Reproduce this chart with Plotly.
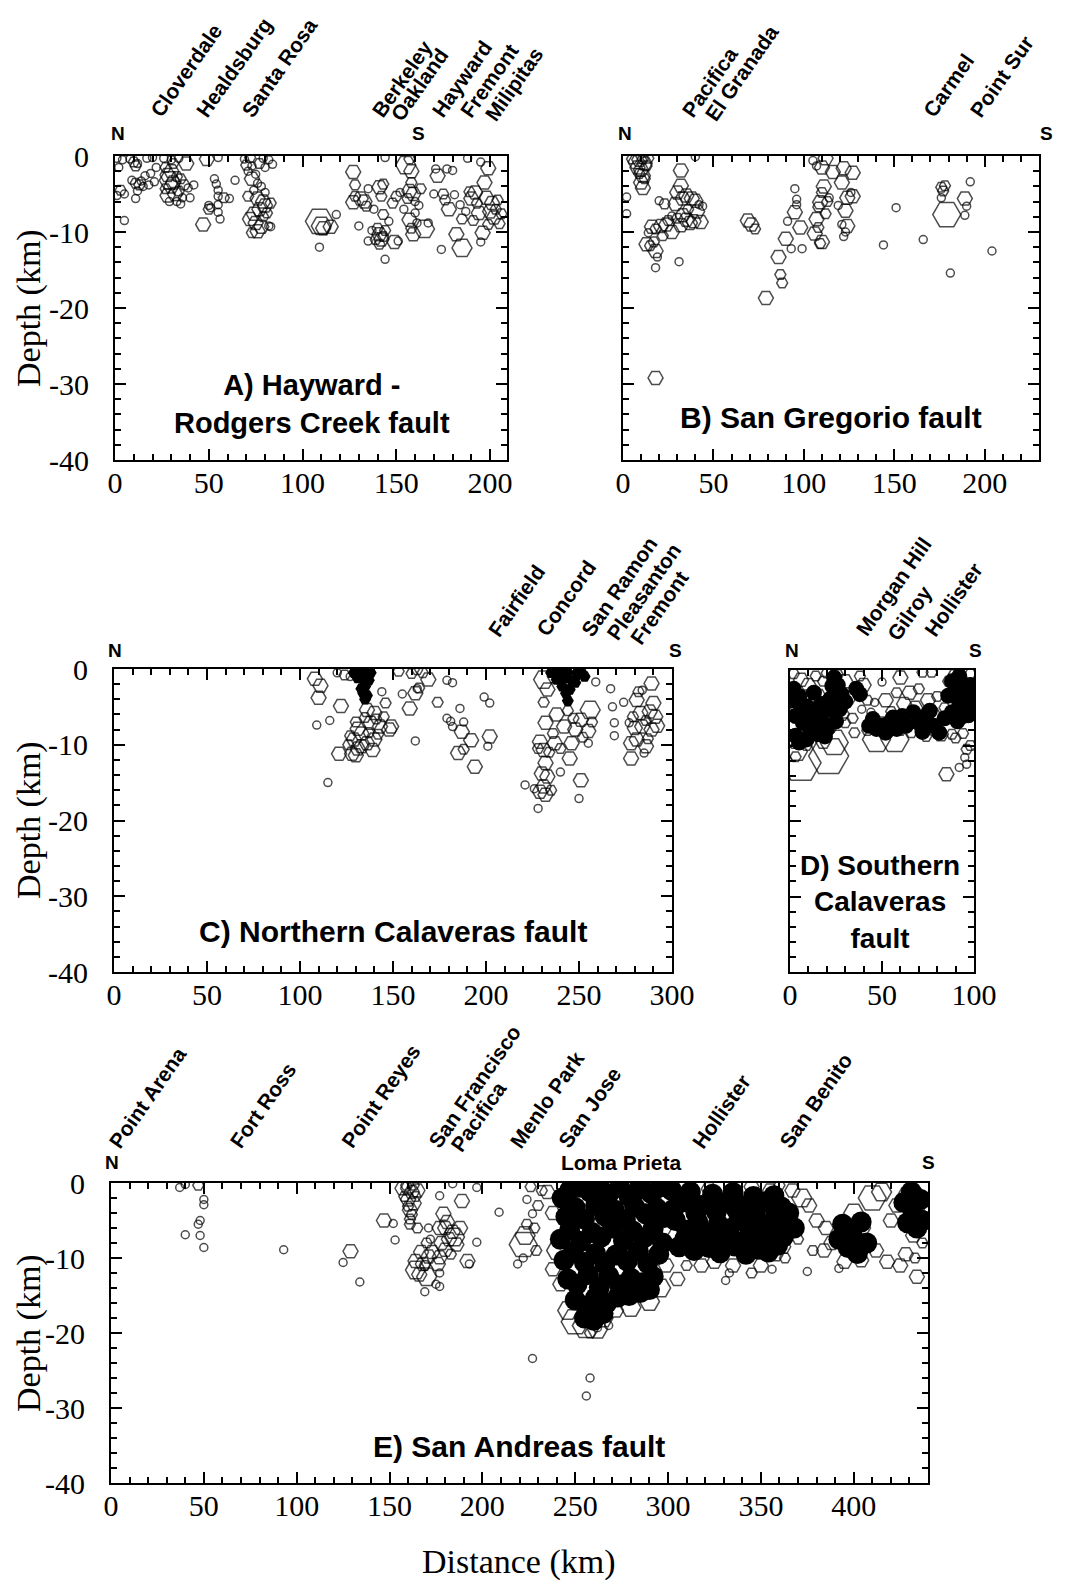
import plotly.graph_objects as go

W, H = 1066, 1580

# ---------------- data: (distance km, depth km, magnitude class) ----------------
A_EVENTS = [
    (1,-0.3,1),(2,-1.5,1),(3,-4.5,2),(5,-5,1),(4,-0.5,1),(5,-8.5,1),(1,-5.2,1),(8,-0.4,1),(10,-0.8,2),(11,-1.3,2),
    (12,-1.0,1),(9,-3.2,1),(11,-3.6,2),(13,-3.8,2),(12,-4.6,1),(11,-5.6,1),(14,-3.3,1),(15,-4.0,1),(16,-2.6,1),
    (18,-3.8,1),(19,-2.3,1),(21,-3.4,1),(17,-0.3,1),(20,-0.2,1),(22,-1.5,1),
    (26,-0.3,1),(27,-1.5,2),(28,-2.5,3),(29,-3.2,4),(30,-4.0,3),(30,-2.0,3),(31,-3.5,3),(32,-5.0,3),(28,-5.2,3),
    (29,-6.0,1),(31,-1.0,2),(33,-2.7,2),(34,-4.6,2),(35,-3.0,2),(33,-6.0,1),(36,-5.5,1),(38,-1.0,3),(39,-4.2,1),
    (40,-5.5,1),(42,-3.8,1),(37,-3.8,2),(27,-4.3,2),(30,-0.5,1),(34,-0.3,1),(35,-6.3,1),
    (49,-0.4,3),(47,-9,3),(55,-0.2,1),(53,-3.0,1),(54,-3.7,1),(55,-4.5,1),(55,-5.3,1),(55,-6.4,1),(55,-7.4,1),
    (56,-8.3,1),(50,-6.5,1),(51,-6.8,1),(58,-5.5,2),(61,-5.6,1),(64,-3.2,1),(50,-7.0,2),
    (69,-0.4,1),(72,-0.2,2),(70,-1.2,2),(73,-1.3,1),(71,-2.0,1),(75,-2.4,1),(73,-3.0,3),(76,-3.6,1),(78,-4.0,1),
    (74,-4.5,1),(71,-5.3,2),(76,-5.6,3),(79,-6.0,3),(80,-6.5,3),(77,-7.0,3),(74,-7.6,3),(72,-8.3,3),(75,-8.8,3),
    (78,-9.3,3),(76,-9.9,3),(73,-10.1,2),(79,-8.0,2),(81,-7.5,2),(83,-6.2,2),(82,-9.2,1),(80,-4.8,1),(82,-0.5,1),
    (84,-1.1,1),(80,-1.5,1),(79,-0.3,1),(83,-9.3,1),(77,-1.0,2),
    (109,-8.6,5),(110,-9.2,4),(111,-9.5,3),(115,-9.3,3),(118,-7.7,1),(109,-12.0,1),
    (127,-2.1,3),(128,-3.8,2),(128,-5.3,2),(127,-6.1,3),(131,-5.6,3),(133,-6.0,3),(135,-4.3,1),(134,-6.6,2),
    (130,-9.2,1),(135,-11.2,1),(137,-9.8,1),(141,-4.1,3),(142,-5.3,2),(143,-3.7,2),(140,-9.5,2),(141,-10.3,3),
    (142,-11.0,3),(143,-10.6,2),(144,-9.8,2),(141,-11.6,2),(139,-11.0,2),(144,-13.6,1),(143,-7.7,2),(146,-8.6,1),
    (148,-6.2,2),(150,-5.3,2),(149,-11.3,3),(151,-11.2,1),(152,-4.8,1),(144,-0.2,1),(138,-7.0,1),
    (155,-1.2,4),(157,-0.4,2),(158,-2.0,3),(158,-3.5,2),(157,-4.6,3),(159,-5.0,3),(160,-6.0,1),(156,-5.6,2),
    (157,-8.4,3),(158,-9.5,2),(159,-10.3,3),(161,-8.8,1),(162,-6.5,1),(165,-9.6,4),(163,-4.3,2),(154,-7.0,1),
    (160,-7.5,1),(167,-8.8,1),
    (171,-1.7,1),(172,-2.6,3),(170,-5.0,1),(175,-5.0,2),(176,-5.8,2),(178,-7.0,3),(177,-1.7,1),(174,-12.3,1),
    (180,-1.9,1),(182,-10.3,3),(185,-12.1,4),(181,-5.1,1),(184,-6.4,1),(185,-8.3,2),(187,-7.3,1),(189,-4.7,2),
    (190,-5.6,3),(192,-4.8,3),(193,-6.2,2),(194,-7.5,3),(191,-8.5,2),(196,-10.1,3),(195,-11.3,1),(197,-3.5,3),
    (198,-5.5,3),(199,-1.6,3),(200,-7.3,3),(201,-6.2,3),(202,-8.1,3),(203,-7.0,2),(204,-5.8,2),(205,-8.9,2),
    (199,-9.0,2),(188,-0.3,1),(206,-7.6,2),(195,-0.8,1),
]

B_EVENTS = [
    (5,-0.4,2),(7,-0.8,3),(9,-0.5,3),(11,-0.4,2),(12,-1.0,3),(8,-1.5,3),(10,-1.8,3),(11,-2.6,3),(10,-3.5,3),
    (11,-4.2,3),(13,-1.3,2),(14,-0.3,2),(9,-2.3,2),(12,-3.0,2),(2,-5.4,1),(2,-7.6,1),(40,-0.1,1),
    (32,-1.9,3),(32,-3.9,3),(30,-4.8,3),(20,-5.9,1),(23,-6.3,2),(29,-6.3,3),(33,-5.6,3),(35,-5.2,3),(38,-5.6,3),
    (40,-5.9,3),(42,-6.4,1),(44,-6.6,1),(33,-7.8,3),(35,-8.4,3),(37,-8.8,3),(39,-8.6,3),(43,-8.7,3),(32,-9.1,3),
    (30,-8.2,2),(27,-7.9,1),(24,-9.0,3),(21,-9.2,3),(18,-9.6,2),(16,-9.3,3),(14,-10.1,1),(13,-11.6,3),(15,-11.8,2),
    (17,-11.3,2),(18,-12.5,3),(19,-13.3,1),(18,-14.7,1),(31,-13.9,1),(18,-29.2,3),(25,-8.5,2),(27,-10.0,3),
    (22,-10.5,2),(36,-7.0,2),(41,-7.3,3),
    (69,-8.5,3),(71,-9.0,3),(73,-9.6,2),(79,-18.7,3),(86,-13.3,3),(87,-15.6,2),(88,-16.7,2),(90,-10.9,3),
    (93,-12.2,1),(95,-4.3,1),(96,-5.7,1),(95,-7.4,3),(91,-8.6,1),(98,-9.4,3),(99,-12.2,1),(96,-6.4,1),
    (105,-0.6,1),(110,-1.5,3),(111,-4.0,3),(110,-4.8,2),(109,-6.1,3),(108,-6.7,2),(107,-8.3,3),(106,-10.2,3),
    (110,-11.3,3),(109,-11.5,2),(113,-6.0,2),(112,-0.3,3),(116,-2.1,3),(112,-7.6,2),(114,-5.5,1),(108,-9.4,2),
    (107,-1.3,1),
    (122,-1.6,3),(121,-3.5,3),(127,-2.2,3),(124,-5.5,3),(127,-5.3,3),(123,-7.2,3),(124,-9.2,3),(121,-9.0,1),
    (122,-10.6,1),(126,-4.8,1),(123,-10.0,1),(119,-6.5,1),
    (144,-11.7,1),(151,-6.8,1),(166,-11.0,1),
    (176,-4.1,2),(177,-4.6,2),(176,-5.5,1),(179,-7.7,5),(181,-15.4,1),(189,-5.6,3),(192,-3.4,1),(190,-6.6,1),
    (189,-7.8,1),(204,-12.5,1),(178,-3.9,2),
]

C_EVENTS = [
    (108,-1.3,3),(111,-2.2,3),(110,-3.8,3),(109,-7.4,1),(116,-6.8,1),(115,-15.0,1),(122,-4.9,3),(121,-11.2,3),
    (128,-11.2,3),(130,-11.4,3),(131,-10.5,3),(126,-10.0,2),(120,-0.5,1),(124,-0.8,2),(127,-1.0,1),
    (136,-5.4,3),(140,-5.8,3),(145,-6.3,2),(138,-7.1,3),(143,-7.6,3),(148,-8.0,3),(131,-7.9,3),(129,-9.3,3),
    (136,-9.8,3),(140,-9.3,3),(139,-10.7,3),(146,-4.5,2),(144,-3.0,1),(149,-7.6,3),(133,-8.5,3),(127,-8.8,2),
    (142,-8.6,2),(135,-6.4,2),(133,-10.2,3),(141,-6.6,2),(137,-8.4,2),(130,-7.0,2),
    (153,-0.3,2),(160,-0.6,2),(163,-0.1,2),(166,-0.5,2),(169,-1.4,3),(162,-3.2,3),(159,-5.2,3),(155,-3.3,1),
    (163,-2.6,1),(162,-9.5,1),(174,-4.4,2),(179,-1.5,1),(182,-1.8,1),(186,-5.2,1),(179,-6.5,1),(181,-6.9,1),
    (188,-7.0,1),(182,-7.6,1),(187,-8.3,3),(192,-9.4,3),(185,-11.1,3),(194,-12.9,3),(199,-3.7,1),(202,-4.5,1),
    (202,-8.9,3),(201,-10.2,1),(188,-10.6,2),(164,-2.5,2),
    (231,-1.4,4),(233,-2.7,3),(237,-1.0,3),(259,-1.7,1),(231,-4.4,2),(232,-7.1,3),(229,-9.6,3),(231,-10.7,3),
    (232,-12.4,3),(230,-13.8,3),(233,-14.2,3),(231,-15.5,3),(229,-16.2,3),(232,-16.6,3),(221,-15.3,1),
    (228,-18.4,1),(240,-13.6,1),(237,-9.8,3),(242,-7.6,3),(246,-9.8,3),(245,-11.8,3),(248,-8.0,3),(251,-6.7,3),
    (256,-5.4,4),(255,-8.2,3),(255,-9.8,1),(251,-14.7,3),(250,-17.1,1),(238,-6.0,3),(244,-5.5,2),(234,-11.0,2),
    (236,-8.5,2),(228,-10.5,2),(226,-15.8,1),(235,-16.0,2),(240,-10.5,2),(252,-9.0,2),(257,-7.0,2),(247,-6.5,2),
    (267,-2.6,1),(268,-5.0,1),(269,-7.1,1),(269,-8.8,1),(274,-4.4,1),(277,-7.1,1),(278,-9.8,3),(278,-11.8,3),
    (281,-4.1,3),(283,-5.8,3),(284,-7.6,3),(281,-9.3,3),(286,-10.2,3),(289,-1.9,3),(290,-4.5,3),(291,-6.3,3),
    (289,-8.0,3),(285,-11.1,1),(288,-5.6,3),(280,-7.8,3),(282,-3.0,2),(292,-7.5,3),(284,-2.8,1),(287,-9.2,2),
    (279,-6.3,2),(286,-6.8,2),
]
C_CORE = [
    (132,-0.5),(134,-1.4),(135,-2.3),(134,-3.2),(135,-4.0),(129,-0.5),(138,-0.5),(131,-1.2),(137,-1.5),
    (130,-0.2),(136,-0.3),(133,-2.6),(136,-3.5),
    (235,-0.5),(238,-1.4),(241,-2.3),(243,-3.2),(244,-0.5),(249,-0.5),(246,-1.5),(240,-0.4),(244,-4.2),(253,-1.0),
    (237,-0.3),(242,-1.2),(248,-1.8),(245,-2.7),(251,-0.3),
]

D_EVENTS = [
    (6,-12.3,6),(21,-11.4,6),(24,-9.6,5),(47,-9.2,5),(57,-9.2,5),(4,-10.8,4),(3,-11.5,2),
    (2,-0.5,2),(6,-1.3,3),(10,-2.0,3),(14,-0.8,2),(18,-1.5,2),(8,-3.5,3),(3,-4.5,3),(12,-4.4,2),(16,-3.2,2),
    (20,-0.4,2),(26,-0.6,2),(30,-1.5,3),(32,-3.6,3),(28,-5.8,3),(34,-6.4,2),(38,-0.8,2),(40,-2.0,3),(42,-4.0,2),
    (44,-5.6,1),(46,-4.3,1),(39,-5.2,1),(50,-1.6,1),(52,-4.0,3),(55,-5.5,2),(58,-3.0,2),(60,-1.0,3),(62,-4.5,3),
    (65,-3.0,3),(68,-5.0,3),(70,-2.5,2),(72,-0.3,2),(75,-4.0,3),(77,-0.3,2),(78,-6.0,3),(80,-3.5,2),(82,-8.5,3),
    (84,-5.0,2),(86,-1.5,2),(85,-13.8,3),(92,-12.9,1),(96,-12.5,1),(95,-11.6,1),(96,-10.5,2),(98,-10.0,2),
    (90,-9.0,2),(94,-8.4,2),(98,-0.5,2),(88,-8.5,2),(35,-8.3,2),(13,-8.3,3),(18,-9.5,3),(9,-10.0,2),(30,-7.0,2),
    (66,-8.3,2),(74,-8.8,2),(60,-8.0,2),(42,-8.0,2),(89,-0.6,2),(93,-1.3,2),(64,-7.0,2),(71,-6.8,3),(49,-7.1,3),
    (56,-7.6,2),(1,-7.5,3),(3,-9.5,3),(11,-6.8,2),(22,-7.4,3),
]
D_CORE = [
    (3,-6.1),(7,-7.0),(10,-7.4),(3,-8.7),(14,-6.1),(18,-7.0),(21,-5.2),(23,-2.1),(25,-3.9),(27,-5.2),(20,-7.9),
    (9,-9.2),(5,-9.6),(24,-1.0),(36,-2.5),(38,-3.2),(43,-7.4),(47,-7.8),(50,-7.4),(54,-7.0),(58,-7.8),(61,-6.1),
    (67,-5.6),(70,-7.0),(74,-6.1),(78,-7.4),(81,-8.3),(90,-2.1),(94,-3.0),(97,-3.4),(92,-4.3),(96,-4.7),(88,-5.6),
    (94,-6.1),(98,-2.0),(15,-8.5),(12,-5.2),(6,-5.0),
    (2,-2.5),(5,-3.5),(9,-4.8),(13,-3.0),(17,-4.5),(22,-3.8),(26,-2.0),(28,-3.2),(30,-4.2),(1,-4.0),(8,-6.0),
    (16,-6.3),(11,-8.0),(19,-8.8),(25,-6.8),(45,-6.5),(52,-8.3),(56,-6.3),(63,-7.4),(72,-8.2),(76,-5.4),(86,-3.4),
    (88,-1.5),(92,-0.8),(99,-4.5),(91,-6.8),(97,-6.0),(84,-6.4),
]

E_EVENTS = [
    (37,-0.6,1),(40,-0.2,1),(47,-0.3,2),(50,-2.2,1),(50,-2.9,1),(48,-5.0,1),(47,-5.5,1),(40,-6.9,1),(48,-7.0,1),
    (50,-8.6,1),(93,-8.9,1),(125,-10.6,1),(129,-9.1,3),(134,-13.2,1),(147,-5.0,3),(152,-5.4,1),(153,-7.6,1),
    (157,-0.7,3),(160,-0.7,3),(162,-1.2,3),(165,-1.0,3),(160,-2.2,3),(163,-2.7,3),(161,-3.6,3),(161,-4.8,2),
    (161,-5.5,2),(160,-3.1,2),(158,-1.8,2),(164,-1.8,2),(162,-4.2,2),(159,-0.3,2),(163,-0.3,2),
    (165,-6.0,2),(171,-6.0,1),(170,-8.0,2),(167,-9.2,3),(164,-10.4,3),(168,-10.8,3),(164,-11.6,4),(170,-12.5,4),
    (169,-14.5,1),(175,-13.5,1),(171,-9.8,3),(173,-9.2,3),(172,-7.5,1),(166,-12.2,3),(169,-11.0,2),
    (177,-1.7,1),(189,-2.4,3),(179,-4.1,3),(177,-6.0,3),(180,-6.0,3),(184,-6.5,3),(182,-7.5,3),(185,-7.2,4),
    (178,-8.0,3),(180,-8.9,3),(177,-9.9,3),(176,-10.8,3),(177,-12.0,1),(177,-13.8,1),(192,-10.4,3),(193,-10.8,1),
    (197,-0.6,1),(197,-7.9,1),(184,-0.1,1),(209,-3.9,1),(219,-10.8,1),(227,-23.4,1),(186,-8.2,3),(183,-9.5,2),
    (188,-6.0,3),(181,-5.2,3),
    (222,-8.2,5),(223,-7.0,4),(224,-5.5,2),(227,-4.1,1),(224,-2.2,1),(222,-10.0,1),(228,-6.0,2),(230,-3.0,2),
    (232,-1.0,2),(226,-0.5,2),(229,-9.0,2),
    (246,-17.0,4),(250,-18.5,5),(256,-19.0,5),(262,-19.5,4),(258,-20.0,2),(265,-18.0,4),(272,-17.0,3),
    (280,-16.6,4),(290,-15.8,4),(296,-14.0,4),(240,-9.0,4),(238,-11.5,3),(242,-13.5,3),(299,-11.0,3),
    (298,-6.0,3),(258,-26.0,1),(256,-28.4,1),(262,-19.3,1),(268,-19.0,1),(305,-12.8,3),(331,-13.0,1),
    (333,-12.0,1),(335,-11.0,3),(345,-12.0,2),(350,-11.0,3),(356,-11.5,1),(318,-11.0,3),(325,-10.5,3),
    (310,-11.0,2),(375,-11.8,1),(392,-11.4,1),(434,-12.5,3),(435,-1.2,1),(372,-2.0,4),(376,-3.0,3),(380,-5.0,3),
    (385,-6.0,3),(388,-8.0,3),(384,-9.0,3),(395,-10.5,3),(404,-10.3,3),(412,-9.0,3),(418,-10.5,3),(425,-11.0,3),
    (428,-9.5,3),(432,-7.0,3),(423,-3.0,3),(415,-1.2,4),(410,-2.0,5),(420,-5.0,3),(367,-1.0,3),(362,-8.5,3),
    (365,-5.0,3),(358,-9.5,3),(363,-10.0,2),(370,-7.5,2),(378,-9.0,2),(400,-4.0,4),(405,-6.0,3),(428,-1.5,3),
    (436,-4.0,2),(437,-8.0,2),(433,-10.0,2),(300,-2.0,3),(308,-0.6,3),(313,-3.5,3),(322,-0.8,3),(335,-1.0,3),
    (345,-0.5,3),(355,-1.0,3),(360,-0.3,2),(247,-2.0,2),(252,-1.0,3),(260,-0.5,3),(270,-0.6,3),(280,-0.4,3),
    (290,-0.3,3),(235,-1.2,3),(238,-4.0,3),
]
E_CORE = [
    (243,-2),(247,-1),(252,-0.5),(258,-1.2),(263,-0.4),(268,-1.5),(274,-0.6),(279,-1.8),(285,-0.8),(291,-1.4),
    (296,-0.5),(245,-4.5),(250,-3.3),(255,-4.8),(261,-3.0),(266,-4.4),(271,-3.6),(277,-4.9),(282,-3.2),(288,-4.1),
    (294,-3.4),(298,-4.6),(242,-7.5),(247,-6.3),(253,-7.8),(259,-6.6),(264,-7.2),(270,-6.0),(276,-7.7),(281,-6.4),
    (287,-7.3),(292,-6.1),(297,-8.0),(244,-10.3),(249,-9.2),(255,-10.6),(261,-9.4),(266,-10.8),(272,-9.6),
    (278,-10.4),(284,-9.1),(289,-10.7),(295,-9.5),(246,-12.8),(251,-13.5),(257,-12.2),(263,-13.9),(268,-12.4),
    (274,-13.6),(280,-12.7),(286,-13.3),(292,-12.5),(250,-15.6),(256,-16.4),(261,-15.3),(267,-16.0),(273,-15.2),
    (279,-15.0),(285,-14.6),(290,-14.2),(255,-18.0),(260,-18.3),(265,-17.4),
    (302,-1.0),(308,-2.5),(312,-1.2),(318,-3.0),(324,-1.5),(329,-2.8),(335,-1.3),(340,-3.1),(346,-1.8),(351,-2.6),
    (357,-1.7),(361,-3.2),(304,-5.0),(310,-6.3),(316,-5.2),(321,-6.8),(327,-5.5),(333,-6.1),(338,-5.0),(344,-6.6),
    (349,-5.3),(355,-6.2),(360,-5.6),(306,-8.5),(314,-9.0),(322,-8.6),(328,-9.3),(336,-8.4),(342,-9.5),(348,-8.8),
    (354,-9.2),(359,-8.3),(365,-4.0),(368,-6.0),
    (303,-3.5),(315,-4.0),(326,-3.8),(337,-3.6),(347,-4.2),(358,-4.0),(309,-7.5),(319,-7.4),(331,-7.6),(341,-7.8),
    (352,-7.5),(362,-7.2),
    (394,-5.5),(399,-6.8),(404,-5.2),(397,-8.6),(402,-9.4),(407,-8.0),(392,-7.5),
    (427,-2.6),(432,-3.8),(436,-2.2),(429,-5.3),(434,-6.0),(437,-5.0),(431,-1.2),
]

# place names along each fault (name, distance km, line index within a stacked label)
A_PLACES = [("Cloverdale",21,0),("Healdsburg",45,0),("Santa Rosa",69.5,0),("Berkeley",139,0),("Oakland",149,1),
            ("Hayward",171,0),("Fremont",186,0),("Milipitas",199,1)]
B_PLACES = [("Pacifica",35,0),("El Granada",47,1),("Carmel",168,0),("Point Sur",194,0)]
C_PLACES = [("Fairfield",203,0),("Concord",229,0),("San Ramon",253,0),("Pleasanton",267,1),("Fremont",279.5,2)]
D_PLACES = [("Morgan Hill",38,0),("Gilroy",55,1),("Hollister",75,0)]
E_PLACES = [("Point Arena",1,0),("Fort Ross",66,0),("Point Reyes",126,0),("San Francisco",173,0),("Pacifica",185,1),
            ("Menlo Park",217,0),("San Jose",243,0),("Hollister",315,0),("San Benito",362,0)]

X_TICKS = {"A": [0,50,100,150,200], "B": [0,50,100,150,200], "C": [0,50,100,150,200,250,300],
           "D": [0,50,100], "E": [0,50,100,150,200,250,300,350,400]}
Y_TICKVALS = [0,-10,-20,-30,-40]
Y_TICKTEXT = ["0","-10","-20","-30","-40"]

# ---------------- layout (pixel boxes) ----------------
PANELS = {
    # key: (left, top, right, bottom, xmax, show y labels)
    "A": (115,156,507,460,209,True),
    "B": (623,156,1039,460,230,False),
    "C": (114,669,672,972,300,True),
    "D": (790,670,974,972,100,False),
    "E": (111,1183,928,1483,440,True),
}
EVENTS = {"A": A_EVENTS, "B": B_EVENTS, "C": C_EVENTS, "D": D_EVENTS, "E": E_EVENTS}
CORES = {"C": (C_CORE, "hexagon2", 12), "D": (D_CORE, "circle", 16), "E": (E_CORE, "circle", 21)}
PLACES = {"A": A_PLACES, "B": B_PLACES, "C": C_PLACES, "D": D_PLACES, "E": E_PLACES}
PLACE_BASE = {"A": 124, "B": 124, "C": 643, "D": 643, "E": 1155}

SIZE_BY_MAG = {1: 8, 2: 11, 3: 15, 4: 20, 5: 28, 6: 40}
SERIF = "Liberation Serif, Times New Roman, serif"
SANS = "Liberation Sans, Arial, sans-serif"

def fx(p): return p / W
def fy(p): return 1 - p / H

fig = go.Figure()
annotations = []

for i, (key, (l, t, r, b, xmax, ylab)) in enumerate(PANELS.items(), start=1):
    sx = "" if i == 1 else str(i)
    xname, yname = "x" + sx, "y" + sx
    ev = EVENTS[key]
    fig.add_trace(go.Scatter(
        x=[e[0] for e in ev], y=[e[1] for e in ev], mode="markers",
        xaxis=xname, yaxis=yname, showlegend=False, hoverinfo="skip",
        marker=dict(symbol=["circle-open" if e[2] == 1 else "hexagon2-open" for e in ev],
                    size=[SIZE_BY_MAG[e[2]] for e in ev], color="black",
                    line=dict(color="black", width=1.5))))
    if key in CORES:
        pts, sym, sz = CORES[key]
        fig.add_trace(go.Scatter(
            x=[p[0] for p in pts], y=[p[1] for p in pts], mode="markers",
            xaxis=xname, yaxis=yname, showlegend=False, hoverinfo="skip",
            marker=dict(symbol=sym, size=sz, color="black", line=dict(width=0))))
    common = dict(showline=True, linewidth=2, linecolor="black", mirror="ticks", ticks="inside",
                  tickwidth=1.5, tickcolor="black", showgrid=False, zeroline=False, automargin=False,
                  tickfont=dict(family=SERIF, size=30, color="black"))
    fig.layout["xaxis" + sx] = dict(domain=[fx(l), fx(r)], range=[0, xmax], anchor=yname,
                                    tickmode="array", tickvals=X_TICKS[key], ticklen=11,
                                    ticklabelstandoff=-5,
                                    minor=dict(dtick=10, tick0=0, ticklen=6, ticks="inside",
                                               tickcolor="black", tickwidth=1.5), **common)
    fig.layout["yaxis" + sx] = dict(domain=[fy(b), fy(t)], range=[-40, 0], anchor=xname,
                                    tickmode="array", tickvals=Y_TICKVALS, ticktext=Y_TICKTEXT,
                                    showticklabels=ylab, ticklen=11, ticklabelstandoff=18,
                                    minor=dict(dtick=2, tick0=0, ticklen=6, ticks="inside",
                                               tickcolor="black", tickwidth=1.5), **common)
    # place names
    for name, km, line in PLACES[key]:
        annotations.append(dict(text=name, x=km, xref=xname, y=fy(PLACE_BASE[key]), yref="paper",
                                xanchor="left", yanchor="bottom", textangle=-55, showarrow=False,
                                xshift=-11, yshift=-4 * line,
                                font=dict(family=SANS, size=21, color="black", weight="bold")))

def text(s, x, y, size, family=SANS, bold=True, angle=0):
    annotations.append(dict(text=s, x=fx(x), y=fy(y), xref="paper", yref="paper", showarrow=False,
                            xanchor="center", yanchor="middle", textangle=angle,
                            font=dict(family=family, size=size, color="black",
                                      weight="bold" if bold else "normal")))

# N / S markers
for (s, x, y) in [("N",118,133),("S",418,133),("N",625,133),("S",1046,133),("N",115,650),("S",675,650),
                  ("N",792,650),("S",975,650),("N",112,1162),("S",928,1162)]:
    text(s, x, y, 19)
text("Loma Prieta", 621, 1162, 21)

# panel titles
text("A) Hayward -<br>Rodgers Creek fault", 312, 404, 29)
text("B) San Gregorio fault", 831, 417, 30)
text("C) Northern Calaveras fault", 393, 931, 30)
text("D) Southern<br>Calaveras<br>fault", 880, 902, 28)
text("E) San Andreas fault", 519, 1446, 30)

# axis titles
for yc in (308, 820, 1333):
    text("Depth (km)", 29, yc, 34, family=SERIF, bold=False, angle=-90)
text("Distance (km)", 519, 1562, 34, family=SERIF, bold=False)

fig.update_layout(width=W, height=H, margin=dict(l=0, r=0, t=0, b=0, pad=0, autoexpand=False),
                  paper_bgcolor="white", plot_bgcolor="white", annotations=annotations)
fig.write_html("out.html")
